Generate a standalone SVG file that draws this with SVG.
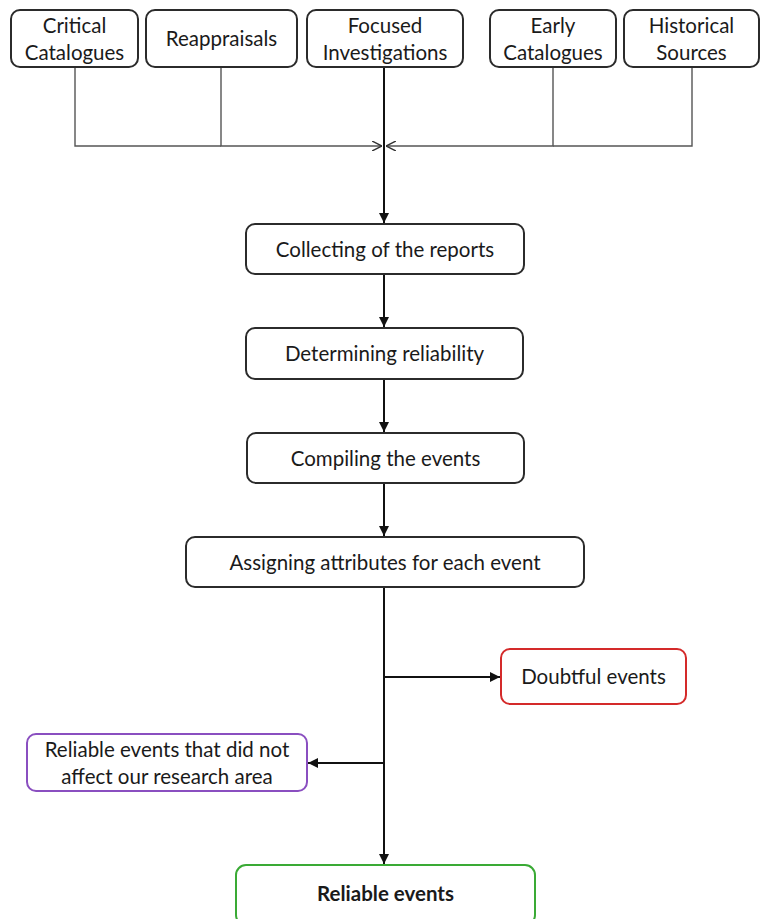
<svg xmlns="http://www.w3.org/2000/svg" width="762" height="919" viewBox="0 0 762 919">
<style>
.box{fill:#fff;stroke:#2b2b2b;stroke-width:2}
.t{font-family:Lato,"Open Sans","Liberation Sans",sans-serif;font-size:20.5px;fill:#1a1a1a;text-anchor:middle}
.thin{fill:none;stroke:#555;stroke-width:1.4}
.main{fill:none;stroke:#111;stroke-width:2}
</style>
<defs>
<marker id="ah" viewBox="0 0 10 10" refX="10" refY="5" markerWidth="10" markerHeight="10" markerUnits="userSpaceOnUse" orient="auto">
<path d="M0,0 L10,5 L0,10 z" fill="#111"/>
</marker>
<marker id="oa" viewBox="0 0 10 10" refX="10" refY="5" markerWidth="10" markerHeight="10" markerUnits="userSpaceOnUse" orient="auto">
<path d="M0,0 L10,5 L0,10" fill="none" stroke="#333" stroke-width="1.4"/>
</marker>
</defs>
<rect width="762" height="919" fill="#fff"/>
<g id="connectors">
<path class="thin" d="M75,67 V146 H221"/>
<path class="thin" d="M221,67 V146 H382" marker-end="url(#oa)"/>
<path class="thin" d="M692,67 V146 H553"/>
<path class="thin" d="M553,67 V146 H386" marker-end="url(#oa)"/>
<path class="main" d="M384,67 V223" marker-end="url(#ah)"/>
<path class="main" d="M384,275 V327" marker-end="url(#ah)"/>
<path class="main" d="M384,380 V432" marker-end="url(#ah)"/>
<path class="main" d="M384,484 V536" marker-end="url(#ah)"/>
<path class="main" d="M384,588 V864" marker-end="url(#ah)"/>
<path class="main" d="M384,677 H500" marker-end="url(#ah)"/>
<path class="main" d="M384,763 H308" marker-end="url(#ah)"/>
</g>
<g id="critical-catalogues"><rect class="box" x="11" y="10" width="127" height="57" rx="9"/><text class="t" x="74.5" y="33">Critical</text><text class="t" x="74.5" y="60">Catalogues</text></g>
<g id="reappraisals"><rect class="box" x="146" y="10" width="151" height="57" rx="9"/><text class="t" x="221.5" y="46">Reappraisals</text></g>
<g id="focused-investigations"><rect class="box" x="307" y="10" width="156" height="57" rx="9"/><text class="t" x="385" y="33">Focused</text><text class="t" x="385" y="60">Investigations</text></g>
<g id="early-catalogues"><rect class="box" x="490" y="10" width="126" height="57" rx="9"/><text class="t" x="553" y="33">Early</text><text class="t" x="553" y="60">Catalogues</text></g>
<g id="historical-sources"><rect class="box" x="624" y="10" width="135" height="57" rx="9"/><text class="t" x="691.5" y="33">Historical</text><text class="t" x="691.5" y="60">Sources</text></g>
<g id="collecting"><rect class="box" x="246" y="224" width="278" height="50" rx="9"/><text class="t" x="385" y="257">Collecting of the reports</text></g>
<g id="determining"><rect class="box" x="246" y="328" width="277" height="51" rx="9"/><text class="t" x="384.5" y="361">Determining reliability</text></g>
<g id="compiling"><rect class="box" x="247" y="433" width="277" height="50" rx="9"/><text class="t" x="385.5" y="466">Compiling the events</text></g>
<g id="assigning"><rect class="box" x="186" y="537" width="398" height="50" rx="9"/><text class="t" x="385" y="570">Assigning attributes for each event</text></g>
<g id="doubtful"><rect x="501" y="649" width="185" height="55" rx="9" fill="#fff" stroke="#d42a2a" stroke-width="2"/><text class="t" x="593.5" y="684">Doubtful events</text></g>
<g id="reliable-other"><rect x="27" y="734" width="280" height="57" rx="9" fill="#fff" stroke="#8a4fc0" stroke-width="2"/><text class="t" x="167" y="757">Reliable events that did not</text><text class="t" x="167" y="784">affect our research area</text></g>
<g id="reliable"><rect x="236" y="865" width="299" height="60" rx="10" fill="#fff" stroke="#3aaa35" stroke-width="2"/><text class="t" x="385.5" y="901" font-weight="bold">Reliable events</text></g>
</svg>
